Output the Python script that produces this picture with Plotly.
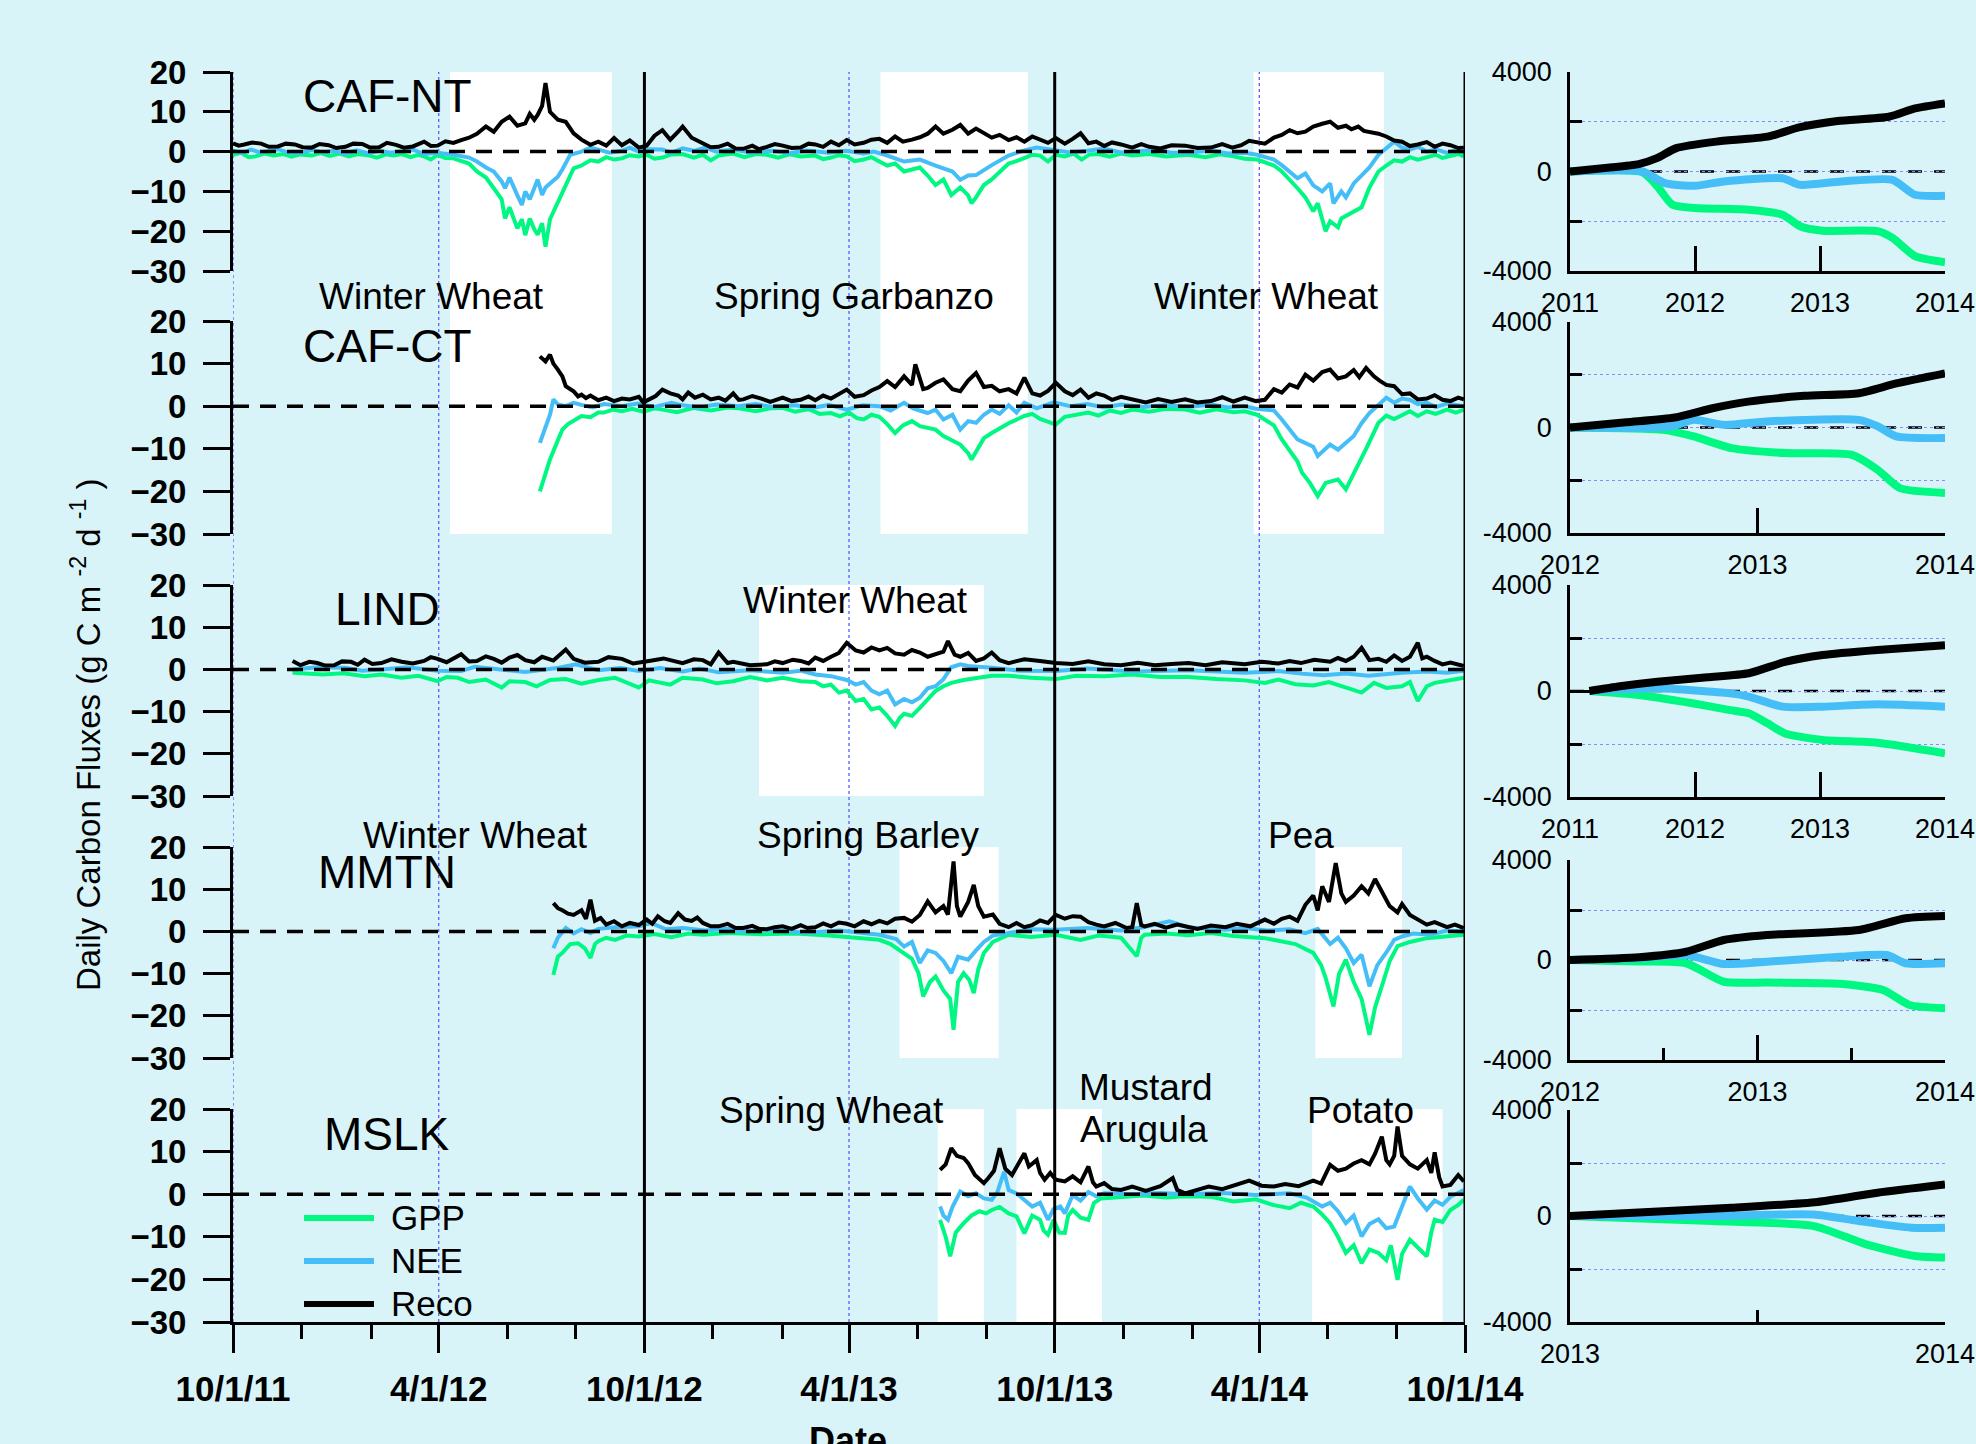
import pandas as pd
import plotly.graph_objects as go

W, H = 1976, 1444
BASE = pd.Timestamp("2011-10-01")
GREEN = "#00F882"
BLUE = "#45BEF8"
BLACK = "#000000"
FONT = "Liberation Sans, Arial, Helvetica, sans-serif"

# ---------------- Daily carbon fluxes: (day since 10/1/2011, g C m-2 d-1) ----------------
nt_reco = [(0,2.1),(5,1.5),(10,1.8),(17,2.3),(25,2.0),(32,1.2),(40,1.3),(47,2.0),(55,1.8),(62,1.1),(70,1.0),
           (77,1.9),(85,1.6),(92,0.9),(100,1.2),(107,2.0),(115,1.9),(122,1.0),(130,1.1),(137,2.2),(145,1.7),
           (152,1.0),(160,1.3),(166,2.0),(170,2.5),(176,1.4),(182,1.5),(189,2.6),(196,2.2),(203,2.9),(210,3.5),
           (217,4.5),(225,6.3),(232,5.0),(239,7.5),(246,8.8),(253,6.5),(260,7.1),(264,9.5),(268,8.0),(271,9.2),
           (275,11.5),(278,17.2),(282,10.0),(289,8.0),(296,7.5),(303,4.6),(310,3.0),(318,1.7),(325,2.5),
           (332,1.5),(339,3.4),(346,1.6),(353,2.8),(361,1.0),(368,1.5),(375,4.0),(382,5.4),(389,3.0),(396,5.0),
           (400,6.3),(408,3.5),(418,2.0),(425,1.1),(432,1.2),(440,2.0),(447,0.8),(454,0.7),(462,1.5),(468,0.6),
           (475,1.2),(482,1.9),(489,1.5),(497,0.9),(505,1.0),(512,2.0),(518,1.8),(525,1.2),(532,2.5),(539,1.6),
           (546,2.9),(553,1.8),(561,2.2),(568,3.0),(575,3.2),(582,2.2),(589,3.8),(596,2.5),(604,3.0),(611,3.6),
           (618,4.5),(625,6.3),(632,4.5),(640,5.5),(647,6.7),(654,4.5),(661,5.8),(668,4.6),(675,3.5),(682,4.2),
           (690,2.9),(697,3.6),(704,2.5),(711,3.8),(718,3.0),(725,2.2),(732,3.4),(740,2.0),(747,3.2),(754,4.6),
           (761,2.1),(768,2.5),(775,1.4),(782,2.3),(790,1.8),(800,1.0),(808,1.9),(815,1.2),(825,0.8),(835,1.6),
           (847,1.5),(858,0.9),(870,1.0),(880,1.9),(889,1.0),(897,1.6),(904,2.7),(911,2.4),(918,2.0),(926,3.5),
           (933,4.2),(940,5.4),(947,4.6),(954,5.0),(961,6.3),(969,7.0),(976,7.5),(983,6.0),(990,6.5),(995,5.6),
           (1001,6.3),(1006,5.2),(1011,5.0),(1019,4.5),(1026,3.8),(1033,2.8),(1040,2.5),(1047,1.4),(1054,1.8),
           (1062,2.4),(1069,1.2),(1076,2.0),(1083,1.6),(1090,0.9),(1095,1.0)]
nt_nee = [(0,0.3),(8,-0.4),(16,0.5),(24,-0.2),(30,0.0),(40,0.6),(50,-0.3),(60,-0.3),(70,0.4),(80,-0.2),
          (90,0.2),(100,-0.5),(110,0.3),(120,-0.4),(130,0.2),(140,-0.3),(150,0.0),(160,0.5),(170,-0.6),
          (182,-0.3),(196,-0.8),(210,-1.5),(217,-2.5),(225,-4.0),(232,-5.0),(239,-7.5),(242,-9.2),(246,-6.5),
          (253,-11.0),(257,-13.4),(260,-10.0),(264,-12.0),(268,-9.2),(271,-7.0),(275,-10.9),(278,-9.0),
          (282,-8.0),(289,-6.3),(293,-4.5),(300,-0.8),(310,0.0),(318,1.0),(325,0.5),(335,-0.3),(346,0.2),
          (353,1.0),(361,0.0),(370,0.6),(382,0.5),(390,-0.3),(400,0.8),(410,0.2),(420,1.0),(430,0.0),(445,0.5),
          (460,-0.2),(480,0.2),(495,-0.4),(510,0.3),(530,-0.3),(545,0.2),(561,-0.5),(570,0.0),(580,-0.8),
          (597,-2.5),(611,-2.0),(625,-3.5),(632,-4.2),(640,-5.0),(647,-7.1),(654,-6.0),(661,-5.9),(668,-4.5),
          (675,-3.4),(690,-1.0),(704,0.3),(715,1.0),(730,0.5),(745,-0.2),(760,0.2),(775,0.8),(790,-0.2),
          (800,0.0),(820,0.4),(835,-0.3),(850,-0.3),(870,0.3),(885,-0.5),(900,-0.3),(911,-0.8),(926,-2.0),
          (933,-3.4),(947,-6.7),(954,-5.5),(961,-8.5),(969,-10.0),(976,-8.0),(979,-13.0),(986,-10.0),(990,-11.5),
          (997,-8.0),(1004,-5.9),(1011,-4.0),(1019,-0.8),(1026,1.0),(1033,2.5),(1040,1.0),(1047,0.5),(1054,1.2),
          (1062,0.0),(1070,0.6),(1080,-0.3),(1088,0.4),(1095,-0.2)]
nt_gpp = [(0,-0.8),(7,-0.3),(14,-1.4),(20,-1.2),(28,-0.5),(36,-1.0),(45,-0.6),(52,-1.3),(60,-0.7),(70,-1.0),
          (78,-0.4),(86,-1.1),(95,-0.5),(103,-1.2),(111,-0.6),(120,-0.9),(128,-1.5),(136,-0.7),(143,-1.0),
          (150,-0.6),(158,-1.4),(165,-0.8),(170,-1.2),(176,-2.0),(182,-0.8),(189,-1.6),(196,-1.7),(210,-3.0),
          (217,-5.0),(225,-6.5),(232,-9.2),(239,-12.0),(242,-16.8),(246,-14.0),(253,-19.3),(257,-17.0),
          (260,-21.0),(264,-16.8),(268,-19.5),(271,-20.9),(275,-18.0),(278,-23.9),(282,-17.0),(289,-12.6),
          (296,-8.0),(303,-4.2),(310,-3.5),(318,-2.2),(325,-2.5),(332,-1.4),(339,-2.0),(346,-1.7),(353,-0.9),
          (361,-1.2),(368,-0.8),(375,-1.8),(382,-1.5),(390,-0.7),(400,-0.6),(410,-1.5),(418,-0.8),(425,-2.2),
          (432,-1.0),(445,-0.5),(455,-1.4),(465,-0.6),(475,-0.8),(485,-1.5),(495,-0.7),(505,-1.2),(518,-1.0),
          (525,-1.9),(532,-1.5),(539,-0.9),(546,-1.2),(553,-2.4),(561,-2.0),(568,-1.4),(575,-2.5),(582,-3.5),
          (589,-3.0),(597,-5.0),(611,-4.0),(618,-6.0),(625,-8.4),(632,-7.0),(639,-10.9),(647,-9.0),(654,-11.0),
          (657,-13.0),(661,-11.5),(668,-8.4),(675,-7.0),(682,-5.0),(690,-3.0),(697,-2.4),(704,-1.7),(711,-0.8),
          (718,-1.0),(725,-2.5),(732,-0.8),(740,-1.2),(748,-0.5),(755,-2.0),(762,-0.7),(770,-0.6),(780,-1.3),
          (790,-0.5),(800,-1.0),(815,-0.6),(830,-1.2),(850,-0.8),(865,-1.4),(878,-0.7),(890,-1.2),(900,-1.8),
          (911,-2.0),(926,-3.5),(933,-5.0),(940,-7.0),(947,-9.2),(954,-11.5),(961,-15.0),(965,-13.0),(972,-20.0),
          (976,-17.5),(983,-19.0),(986,-16.8),(997,-15.0),(1004,-14.0),(1011,-9.0),(1019,-5.0),(1026,-3.5),
          (1033,-2.2),(1040,-2.5),(1047,-1.4),(1054,-2.0),(1062,-1.5),(1070,-0.8),(1076,-1.6),(1083,-1.0),
          (1090,-0.6),(1095,-1.2)]

ct_reco = [(273,11.7),(278,10.5),(282,12.1),(285,10.0),(289,8.6),(293,7.0),(296,4.7),(303,3.5),(307,2.3),(310,2.7),
           (314,1.9),(318,2.5),(325,1.4),(332,2.0),(339,1.2),(346,1.8),(353,1.6),(361,2.2),(365,0.9),(370,1.5),
           (376,2.4),(382,3.9),(389,3.0),(396,2.5),(400,1.6),(405,3.2),(411,2.0),(418,2.7),(425,1.6),(432,2.0),
           (438,1.3),(445,3.0),(450,1.5),(454,1.6),(462,2.4),(470,1.8),(478,1.0),(489,2.0),(497,1.2),(505,1.5),
           (512,2.3),(518,1.4),(525,2.5),(532,1.8),(539,2.9),(546,3.9),(553,2.2),(561,2.6),(568,3.7),(575,4.5),
           (582,5.9),(589,4.5),(597,7.0),(604,5.0),(607,9.8),(614,4.0),(618,4.3),(625,5.5),(632,6.3),(640,4.0),
           (647,3.5),(654,6.0),(661,7.8),(668,4.5),(675,4.8),(682,3.5),(690,4.0),(697,3.0),(704,6.7),(711,3.0),
           (718,2.5),(725,3.6),(732,5.5),(740,3.5),(747,2.6),(754,3.9),(761,2.0),(768,3.0),(775,2.5),(782,1.5),
           (790,2.2),(800,1.5),(812,0.9),(823,1.7),(835,1.0),(847,1.6),(858,0.9),(870,1.2),(880,2.1),(890,1.1),
           (900,2.0),(910,1.2),(918,1.5),(926,4.0),(933,3.2),(940,5.1),(947,4.4),(954,7.4),(961,6.0),(969,8.0),
           (976,8.6),(983,6.5),(990,7.0),(997,8.5),(1002,6.8),(1008,9.0),(1015,7.0),(1020,6.0),(1026,5.0),
           (1033,4.7),(1040,2.8),(1047,3.0),(1054,1.6),(1062,1.8),(1069,2.6),(1076,1.5),(1083,1.2),(1090,2.0),
           (1095,1.6)]
ct_nee = [(273,-8.6),(278,-4.7),(282,-2.0),(285,1.6),(289,0.4),(296,0.0),(303,0.8),(310,0.3),(320,-0.3),(330,0.5),
          (346,0.0),(360,0.6),(375,-0.2),(390,0.8),(400,0.2),(415,-0.3),(430,0.4),(450,0.0),(465,0.5),(480,-0.2),
          (500,0.2),(515,-0.4),(530,0.3),(546,-0.8),(560,0.2),(575,0.0),(585,-1.0),(597,0.8),(605,-0.5),
          (618,-1.6),(625,-0.8),(632,-3.1),(640,-2.0),(647,-5.5),(654,-3.5),(661,-3.9),(668,-2.0),(675,-0.8),
          (682,-1.8),(690,0.2),(697,-1.5),(704,0.8),(715,-0.5),(730,0.9),(745,0.0),(760,0.5),(775,-0.3),
          (790,0.4),(810,-0.2),(830,0.3),(850,-0.2),(870,0.4),(885,-0.3),(900,0.0),(910,-0.6),(926,-1.0),
          (933,-3.1),(947,-7.8),(961,-9.5),(965,-11.7),(976,-9.0),(983,-10.2),(997,-7.0),(1004,-4.0),(1011,-1.6),
          (1026,2.0),(1033,0.8),(1040,1.8),(1047,1.5),(1054,0.5),(1062,0.8),(1070,-0.2),(1080,0.6),(1095,0.0)]
ct_gpp = [(273,-20.0),(278,-16.0),(282,-12.5),(289,-8.0),(293,-5.5),(298,-4.2),(303,-3.5),(310,-2.3),(318,-2.6),
          (325,-1.5),(330,-1.5),(338,-0.8),(346,-1.2),(355,-0.6),(365,-1.3),(375,-0.5),(382,-0.8),(395,-1.4),
          (410,-0.4),(425,-1.0),(440,-0.3),(450,-0.5),(465,-1.2),(478,-0.5),(489,-0.4),(500,-1.3),(512,-0.7),
          (522,-1.8),(532,-1.6),(540,-2.4),(548,-1.5),(555,-2.8),(561,-3.1),(568,-2.0),(575,-2.5),(582,-4.2),
          (589,-6.3),(596,-4.5),(604,-3.5),(611,-4.7),(625,-5.5),(632,-7.0),(647,-9.0),(654,-11.0),(657,-12.5),
          (668,-7.5),(675,-6.3),(690,-4.0),(704,-2.3),(711,-1.8),(718,-3.0),(732,-4.3),(740,-2.5),(761,-1.5),
          (770,-2.2),(780,-1.0),(790,-1.6),(800,-0.8),(815,-1.3),(830,-0.6),(847,-0.8),(860,-1.5),(875,-0.7),
          (890,-1.4),(900,-1.2),(911,-2.0),(926,-4.5),(933,-7.8),(947,-13.0),(951,-15.6),(958,-18.0),(965,-21.1),
          (972,-18.0),(983,-17.2),(990,-19.5),(1001,-14.0),(1008,-10.0),(1019,-3.9),(1026,-2.2),(1033,-3.0),
          (1040,-2.0),(1047,-1.2),(1054,-2.3),(1062,-1.2),(1070,-1.8),(1080,-0.8),(1088,-1.5),(1095,-0.8)]

lind_reco = [(53,2.0),(60,1.0),(68,1.8),(75,1.5),(82,0.9),(90,1.0),(97,1.9),(105,1.8),(111,1.1),(117,2.3),
             (124,1.3),(132,1.5),(141,2.4),(150,1.8),(160,1.4),(170,2.0),(176,2.9),(182,2.5),(190,1.7),(203,3.6),
             (210,1.9),(217,2.0),(225,3.1),(232,2.5),(239,1.6),(246,2.8),(253,3.4),(260,2.2),(268,1.7),(275,3.0),
             (285,2.1),(296,4.7),(303,2.5),(313,1.6),(325,1.8),(334,2.9),(346,2.5),(356,1.4),(370,2.0),(383,2.6),
             (400,1.5),(410,2.4),(418,2.2),(425,1.2),(432,4.0),(440,1.5),(445,1.8),(460,1.0),(475,1.2),(482,1.9),
             (489,1.5),(498,2.3),(505,2.0),(512,1.4),(518,2.8),(525,2.0),(532,3.0),(539,3.9),(546,6.3),(554,4.5),
             (561,4.0),(568,5.2),(575,4.5),(582,5.1),(589,3.8),(597,3.5),(604,4.6),(611,4.0),(618,3.0),(625,3.5),
             (632,4.2),(636,6.7),(642,3.5),(647,3.0),(654,3.9),(661,2.0),(668,2.6),(675,4.0),(682,2.2),(690,1.5),
             (704,2.4),(718,2.0),(732,1.5),(747,1.3),(761,1.9),(775,1.2),(790,1.0),(805,1.6),(820,1.0),(835,1.3),
             (850,1.5),(865,1.0),(880,1.7),(900,1.2),(915,1.8),(930,1.4),(940,2.0),(950,1.5),(962,2.3),(976,1.8),
             (983,2.7),(990,2.0),(997,3.0),(1004,5.1),(1011,2.2),(1019,2.5),(1026,1.8),(1033,3.3),(1040,2.0),
             (1047,3.0),(1054,6.3),(1058,2.6),(1062,3.0),(1069,2.0),(1076,1.2),(1083,1.6),(1095,0.8)]
lind_nee = [(53,0.0),(75,0.5),(100,0.4),(115,-0.3),(132,0.0),(155,0.5),(182,-0.3),(203,-0.4),(215,0.6),(232,0.2),
            (260,-0.6),(290,0.4),(305,1.2),(325,-0.2),(345,0.3),(361,-0.4),(380,0.3),(400,-0.5),(415,0.2),
            (432,-0.7),(460,-0.2),(489,-0.8),(505,-0.3),(518,-1.2),(532,-1.6),(546,-2.5),(554,-3.6),(561,-3.0),
            (568,-5.0),(575,-5.9),(582,-5.0),(589,-8.3),(597,-7.0),(604,-7.8),(611,-6.7),(618,-4.5),(625,-4.0),
            (632,-2.3),(639,0.5),(647,1.2),(654,0.8),(675,0.4),(700,-0.3),(732,-0.4),(760,0.2),(800,-0.5),
            (850,-0.2),(900,-0.8),(930,-0.4),(950,-1.0),(970,-1.4),(990,-1.0),(1010,-1.5),(1040,-0.8),(1062,-0.5),
            (1080,-0.8),(1095,-0.3)]
lind_gpp = [(53,-0.8),(68,-1.0),(80,-1.2),(98,-0.9),(117,-1.6),(132,-1.2),(150,-2.0),(165,-1.5),(182,-2.8),
            (190,-1.8),(200,-2.0),(210,-3.0),(225,-2.4),(239,-4.3),(246,-2.8),(260,-3.0),(270,-4.0),(282,-2.5),
            (296,-2.3),(310,-3.4),(325,-2.5),(340,-2.0),(350,-3.0),(361,-4.3),(370,-2.6),(380,-3.2),(389,-3.6),
            (400,-2.0),(418,-2.4),(430,-3.3),(445,-2.8),(460,-1.8),(475,-2.6),(489,-2.0),(505,-2.8),(518,-3.0),
            (525,-4.0),(532,-3.6),(539,-5.5),(546,-5.0),(554,-7.5),(561,-7.0),(568,-9.5),(575,-9.0),(582,-11.0),
            (589,-13.4),(593,-11.5),(597,-10.5),(604,-11.0),(611,-9.1),(618,-7.0),(625,-5.1),(632,-4.0),
            (639,-3.2),(650,-2.5),(661,-2.0),(675,-1.5),(690,-1.5),(710,-2.0),(732,-2.3),(750,-1.5),(775,-1.6),
            (800,-1.2),(825,-1.8),(850,-1.8),(875,-2.3),(900,-2.6),(918,-3.2),(930,-2.4),(945,-3.5),(961,-3.8),
            (975,-3.0),(990,-4.2),(1004,-5.5),(1015,-3.2),(1026,-4.4),(1040,-4.0),(1047,-3.0),(1054,-7.5),
            (1062,-4.0),(1069,-3.2),(1080,-2.6),(1095,-2.0)]

mmtn_reco = [(285,6.7),(289,5.5),(293,5.0),(298,4.2),(303,3.9),(310,5.0),(314,3.0),(318,7.5),(322,2.5),(327,3.2),
             (332,1.6),(339,2.4),(346,1.2),(353,2.0),(361,1.5),(368,2.8),(373,1.8),(378,3.6),(384,2.4),(389,2.0),
             (396,4.3),(402,2.8),(408,2.5),(413,3.3),(418,2.0),(425,1.2),(432,1.2),(440,1.8),(447,0.8),(454,0.8),
             (462,1.3),(468,0.6),(475,0.5),(482,1.0),(489,1.2),(497,0.6),(505,1.5),(511,0.8),(518,1.0),(525,1.9),
             (532,1.2),(539,2.1),(546,1.8),(553,1.2),(561,2.4),(568,1.7),(575,2.5),(582,1.9),(589,3.0),(597,3.2),
             (604,2.3),(611,3.9),(618,7.1),(625,4.5),(632,6.0),(636,4.0),(641,16.6),(644,6.0),(647,3.5),(654,7.0),
             (659,11.0),(663,6.0),(668,3.5),(676,4.0),(682,1.8),(690,1.0),(697,2.0),(704,1.0),(711,1.5),(718,2.6),
             (725,2.0),(732,3.9),(740,3.0),(747,3.6),(754,3.5),(761,2.2),(768,1.6),(775,1.2),(785,2.0),(795,0.8),
             (800,1.0),(804,6.7),(808,1.5),(811,1.2),(820,1.8),(830,0.9),(840,1.6),(847,1.2),(858,0.6),(870,1.4),
             (883,1.0),(893,1.8),(905,1.2),(918,2.8),(926,1.8),(933,3.0),(940,3.5),(947,2.5),(954,6.3),(961,8.5),
             (965,5.0),(969,10.7),(975,7.0),(981,16.2),(986,9.0),(990,7.0),(997,8.5),(1004,10.7),(1010,9.0),
             (1016,12.4),(1022,9.5),(1029,6.0),(1036,4.5),(1040,6.5),(1047,3.9),(1054,2.8),(1062,1.6),(1069,2.2),
             (1080,1.0),(1087,1.6),(1095,0.8)]
mmtn_nee = [(285,-4.0),(289,-1.5),(296,0.8),(303,-0.5),(310,0.5),(318,-0.4),(325,0.6),(340,1.0),(361,1.2),
            (372,2.0),(385,0.5),(400,0.8),(420,0.2),(440,0.6),(454,0.0),(480,0.3),(510,-0.3),(540,0.2),(560,-0.4),
            (575,-0.8),(590,-1.8),(597,-3.6),(604,-2.5),(611,-7.5),(618,-4.5),(625,-5.1),(632,-7.0),(639,-9.9),
            (645,-6.0),(654,-6.7),(661,-4.5),(668,-2.5),(676,-1.0),(690,-0.4),(710,0.5),(732,0.4),(760,0.8),
            (790,0.2),(810,1.0),(833,2.4),(850,1.0),(866,0.6),(883,0.4),(900,0.8),(920,0.2),(940,0.5),(954,-0.4),
            (965,0.6),(976,-3.0),(983,-1.5),(990,-4.0),(997,-7.5),(1004,-5.5),(1011,-13.0),(1018,-8.0),
            (1026,-5.0),(1033,-2.0),(1040,-1.2),(1050,-0.5),(1065,-0.8),(1080,0.2),(1095,0.0)]
mmtn_gpp = [(285,-10.3),(289,-6.0),(293,-5.1),(300,-3.0),(307,-2.8),(313,-4.0),(318,-6.3),(322,-3.0),(325,-2.3),
            (332,-1.5),(340,-2.0),(350,-1.0),(361,-1.2),(375,-0.6),(390,-1.4),(405,-0.5),(418,-0.8),(440,-0.4),
            (470,-0.7),(500,-0.5),(530,-1.0),(561,-1.6),(575,-2.0),(585,-3.0),(597,-5.1),(604,-6.5),(610,-10.0),
            (614,-15.4),(620,-12.0),(625,-10.7),(632,-14.0),(638,-16.0),(641,-23.3),(645,-12.0),(650,-9.9),
            (655,-11.5),(659,-14.6),(663,-9.0),(668,-5.1),(676,-2.5),(690,-0.8),(710,-1.3),(732,-0.8),(754,-2.0),
            (770,-1.0),(790,-1.5),(804,-5.9),(808,-1.5),(811,-0.8),(830,-0.5),(850,-0.9),(870,-0.4),(890,-1.1),
            (918,-1.6),(930,-2.2),(945,-3.0),(961,-5.1),(968,-8.0),(972,-11.0),(979,-17.8),(984,-10.0),(990,-6.7),
            (997,-12.0),(1004,-16.0),(1011,-24.5),(1016,-18.0),(1022,-13.0),(1029,-7.0),(1036,-3.5),(1047,-2.5),
            (1062,-1.6),(1075,-1.2),(1095,-0.8)]

mslk_reco = [(629,5.7),(634,7.0),(639,10.8),(644,9.0),(650,8.5),(654,7.3),(660,4.5),(664,3.5),(668,2.6),(672,3.8),
             (677,5.5),(682,10.8),(687,6.0),(693,4.5),(698,7.0),(704,9.6),(708,6.5),(715,8.0),(718,5.0),(722,3.4),
             (727,5.0),(732,3.4),(740,3.0),(747,4.2),(754,2.8),(761,6.5),(765,2.8),(768,1.8),(775,2.6),(782,1.2),
             (790,1.0),(800,1.8),(812,0.8),(825,1.9),(836,3.8),(840,1.0),(847,0.2),(856,0.8),(868,1.8),(880,1.2),
             (892,2.3),(904,3.2),(915,2.0),(926,1.8),(936,2.4),(948,1.9),(961,3.2),(968,2.5),(976,6.9),(983,5.5),
             (990,6.0),(997,7.2),(1004,8.0),(1011,7.0),(1016,9.5),(1022,13.5),(1026,8.0),(1029,7.0),(1033,9.0),
             (1036,15.9),(1040,9.0),(1047,7.0),(1054,6.0),(1062,8.0),(1066,5.0),(1069,9.8),(1073,4.0),(1076,1.8),
             (1083,2.2),(1090,4.5),(1095,3.0)]
mslk_nee = [(629,-2.9),(632,-5.0),(636,-6.0),(640,-3.0),(647,0.6),(654,-0.5),(661,0.2),(668,-1.0),(675,-1.3),
            (680,0.5),(686,5.3),(690,1.0),(697,0.2),(704,-1.5),(711,-2.9),(718,-2.0),(725,-6.0),(730,-3.5),
            (736,-2.9),(740,-4.5),(747,-0.2),(754,-1.5),(761,0.5),(768,-0.5),(775,0.2),(800,0.0),(825,0.3),
            (847,0.0),(880,0.3),(910,-0.2),(940,0.2),(955,-0.8),(969,-2.9),(976,-2.0),(983,-4.0),(990,-6.8),
            (997,-5.0),(1004,-9.9),(1011,-7.0),(1019,-5.9),(1026,-8.0),(1033,-7.6),(1040,-3.0),(1047,1.8),
            (1054,-1.0),(1062,-3.6),(1069,-1.5),(1076,-2.5),(1083,-0.6),(1090,0.4),(1095,1.0)]
mslk_gpp = [(629,-6.0),(634,-10.0),(638,-14.6),(643,-9.0),(650,-6.8),(657,-5.0),(664,-4.0),(670,-4.5),(675,-3.7),
            (682,-3.0),(690,-4.5),(697,-5.2),(701,-7.5),(704,-9.2),(711,-5.0),(718,-6.0),(721,-8.5),(725,-9.5),
            (730,-6.0),(735,-9.0),(740,-9.1),(743,-5.0),(747,-3.7),(754,-5.5),(761,-6.0),(766,-2.0),(772,-1.0),
            (790,-0.6),(810,-0.3),(830,-0.8),(847,-0.5),(870,-0.6),(890,-1.7),(910,-1.2),(925,-2.5),(940,-3.3),
            (950,-2.0),(961,-2.9),(968,-4.5),(976,-6.8),(983,-10.0),(990,-13.8),(997,-12.0),(1004,-16.2),
            (1011,-13.0),(1019,-13.8),(1026,-15.5),(1030,-12.0),(1036,-20.1),(1040,-14.0),(1047,-10.7),
            (1054,-12.5),(1062,-14.6),(1066,-9.0),(1069,-6.0),(1076,-6.5),(1083,-3.7),(1090,-2.5),(1095,-1.3)]

# ---------------- Cumulative fluxes (year, g C m-2) ----------------
cum_nt_reco = [(2011.0,0),(2011.3,150),(2011.55,300),(2011.7,550),(2011.85,940),(2012.17,1200),(2012.58,1400),
               (2012.84,1780),(2013.14,2030),(2013.55,2200),(2013.76,2540),(2014.0,2740)]
cum_nt_nee = [(2011.0,0),(2011.58,0),(2011.76,-470),(2012.0,-575),(2012.23,-400),(2012.7,-270),(2012.84,-535),
              (2013.17,-400),(2013.58,-335),(2013.76,-935),(2014.0,-975)]
cum_nt_gpp = [(2011.0,0),(2011.58,-30),(2011.7,-600),(2011.82,-1340),(2012.0,-1470),(2012.43,-1540),
              (2012.7,-1740),(2012.84,-2200),(2013.02,-2380),(2013.46,-2400),(2013.58,-2670),(2013.76,-3400),
              (2014.0,-3650)]
cum_ct_reco = [(2012.0,0),(2012.3,200),(2012.56,380),(2012.76,730),(2012.95,980),(2013.25,1200),(2013.54,1300),
               (2013.74,1670),(2014.0,2050)]
cum_ct_nee = [(2012.0,0),(2012.54,40),(2012.66,290),(2012.82,100),(2013.05,230),(2013.54,290),(2013.64,50),
              (2013.74,-340),(2014.0,-400)]
cum_ct_gpp = [(2012.0,0),(2012.5,-90),(2012.66,-340),(2012.86,-780),(2013.15,-970),(2013.5,-1030),(2013.64,-1600),
              (2013.76,-2300),(2014.0,-2480)]
cum_lind_reco = [(2011.155,0),(2011.4,180),(2011.7,350),(2012.1,520),(2012.43,670),(2012.72,1100),(2013.02,1360),
                 (2013.46,1550),(2014.0,1730)]
cum_lind_nee = [(2011.155,0),(2011.7,100),(2012.28,-90),(2012.43,-210),(2012.7,-590),(2013.02,-590),
                (2013.46,-500),(2014.0,-590)]
cum_lind_gpp = [(2011.155,0),(2011.55,-150),(2011.99,-470),(2012.28,-720),(2012.43,-840),(2012.58,-1220),
                (2012.72,-1600),(2013.02,-1850),(2013.46,-1950),(2014.0,-2350)]
cum_mmtn_reco = [(2012.0,0),(2012.37,110),(2012.62,330),(2012.82,800),(2013.05,1000),(2013.54,1200),(2013.79,1670),
                 (2014.0,1760)]
cum_mmtn_nee = [(2012.0,0),(2012.37,80),(2012.62,200),(2012.82,-160),(2013.05,-70),(2013.44,130),(2013.69,200),
                (2013.79,-130),(2014.0,-130)]
cum_mmtn_gpp = [(2012.0,0),(2012.37,-60),(2012.62,-130),(2012.82,-870),(2013.05,-900),(2013.44,-950),
                (2013.67,-1200),(2013.81,-1800),(2014.0,-1930)]
cum_mslk_reco = [(2013.0,0),(2013.43,310),(2013.66,530),(2013.82,880),(2014.0,1190)]
cum_mslk_nee = [(2013.0,0),(2013.38,0),(2013.65,60),(2013.77,-190),(2013.91,-440),(2014.0,-440)]
cum_mslk_gpp = [(2013.0,0),(2013.38,-190),(2013.65,-380),(2013.79,-1070),(2013.92,-1510),(2014.0,-1570)]

site_names = ["CAF-NT", "CAF-CT", "LIND", "MMTN", "MSLK"]
daily = [(nt_gpp, nt_nee, nt_reco), (ct_gpp, ct_nee, ct_reco), (lind_gpp, lind_nee, lind_reco),
         (mmtn_gpp, mmtn_nee, mmtn_reco), (mslk_gpp, mslk_nee, mslk_reco)]
cumul = [(cum_nt_gpp, cum_nt_nee, cum_nt_reco), (cum_ct_gpp, cum_ct_nee, cum_ct_reco),
         (cum_lind_gpp, cum_lind_nee, cum_lind_reco), (cum_mmtn_gpp, cum_mmtn_nee, cum_mmtn_reco),
         (cum_mslk_gpp, cum_mslk_nee, cum_mslk_reco)]
cum_ranges = [(2011, 2014), (2012, 2014), (2011, 2014), (2012, 2014), (2013, 2014)]
cum_major = [[2011, 2012, 2013, 2014], [2012, 2013, 2014], [2011, 2012, 2013, 2014],
             [2012, 2013, 2014], [2013, 2014]]
cum_minor = [[], [], [], [2012.5, 2013.5], [2013.5]]

# crop seasons (white bands) and their labels
seasons = [  # (start, end, first panel, last panel)
    ("2012-04-11", "2012-09-02", 0, 1), ("2013-04-29", "2013-09-07", 0, 1), ("2014-03-27", "2014-07-21", 0, 1),
    ("2013-01-11", "2013-07-30", 2, 2),
    ("2013-05-16", "2013-08-12", 3, 3), ("2014-05-21", "2014-08-06", 3, 3),
    ("2013-06-19", "2013-07-30", 4, 4), ("2013-08-28", "2013-11-12", 4, 4), ("2014-05-18", "2014-09-11", 4, 4),
]
crop_labels = [("Winter Wheat", 431, 297), ("Spring Garbanzo", 854, 297), ("Winter Wheat", 1266, 297),
               ("Winter Wheat", 855, 600), ("Winter Wheat", 475, 835), ("Spring Barley", 868, 835),
               ("Pea", 1301, 835), ("Spring Wheat", 831, 1110), ("Mustard", 1146, 1087),
               ("Arugula", 1144, 1129), ("Potato", 1360, 1110)]
date_ticks = ["2011-10-01", "2012-04-01", "2012-10-01", "2013-04-01", "2013-10-01", "2014-04-01", "2014-10-01"]
date_ticktext = ["10/1/11", "4/1/12", "10/1/12", "4/1/13", "10/1/13", "4/1/14", "10/1/14"]

# ---------------- layout geometry (pixels) ----------------
LX0, LX1 = 233, 1465
RX0, RX1 = 1570, 1945
left_rows = [(72, 271), (321, 534), (585, 796), (847, 1058), (1109, 1322)]
right_rows = [(72, 271), (322, 533), (585, 797), (860, 1060), (1110, 1322)]


def px(x):
    return x / W


def py(y):
    return 1 - y / H


def unzip(pts):
    return [p[0] for p in pts], [p[1] for p in pts]


fig = go.Figure()
colors = [GREEN, BLUE, BLACK]
names = ["GPP", "NEE", "Reco"]

layout = dict(
    template="none",
    width=W, height=H, margin=dict(l=0, r=0, t=0, b=0, pad=0), autosize=False,
    paper_bgcolor="#d8f4f9", plot_bgcolor="rgba(0,0,0,0)",
    showlegend=False, font=dict(family=FONT, color="black"),
)

shapes = []
annotations = []

for i in range(5):
    n = i + 1
    xa, ya = f"x{n}", f"y{n}"
    for series, col in zip(daily[i], colors):
        d, v = unzip(series)
        dates = [BASE + pd.Timedelta(days=k) for k in d]
        fig.add_trace(go.Scatter(x=dates, y=v, mode="lines", line=dict(color=col, width=4),
                                 xaxis=xa, yaxis=ya, hoverinfo="skip"))
    top, bot = left_rows[i]
    xdict = dict(domain=[px(LX0), px(LX1)], anchor=ya, type="date", automargin=False,
                 range=["2011-10-01", "2014-10-01"], showgrid=False, zeroline=False)
    if n < 5:
        xdict.update(matches="x5", showticklabels=False, ticks="", showline=False)
    else:
        xdict.update(tickmode="array", tickvals=date_ticks, ticktext=date_ticktext,
                     ticks="outside", ticklen=28, tickwidth=3, tickcolor="black",
                     showline=True, linecolor="black", linewidth=3,
                     tickfont=dict(size=35, weight="bold", family=FONT),
                     ticklabelstandoff=6,
                     minor=dict(tickmode="linear", tick0="2011-10-01", dtick="M2", ticks="outside",
                                ticklen=14, tickwidth=3, tickcolor="black", showgrid=False))
    layout[f"xaxis{n}"] = xdict
    layout[f"yaxis{n}"] = dict(domain=[py(bot), py(top)], anchor=xa, range=[-30, 20], automargin=False,
                               tickmode="array", tickvals=[-30, -20, -10, 0, 10, 20],
                               ticks="outside", ticklen=27, tickwidth=3, tickcolor="black",
                               showline=True, linecolor="black", linewidth=3,
                               showgrid=False, zeroline=False, ticklabelstandoff=10,
                               tickfont=dict(size=33, weight="bold", family=FONT))
    # zero dashed line
    shapes.append(dict(type="line", xref=xa, yref=ya, x0="2011-10-01", x1="2014-10-01", y0=0, y1=0,
                       line=dict(color="black", width=3.5, dash="16px,11px"), layer="above"))

# right-hand cumulative panels
for i in range(5):
    n = i + 6
    xa, ya = f"x{n}", f"y{n}"
    for series, col in zip(cumul[i], colors):
        xs, v = unzip(series)
        fig.add_trace(go.Scatter(x=xs, y=v, mode="lines", line=dict(color=col, width=8, shape="spline",
                                 smoothing=0.6), xaxis=xa, yaxis=ya, hoverinfo="skip"))
    top, bot = right_rows[i]
    xdict = dict(domain=[px(RX0), px(RX1)], anchor=ya, range=list(cum_ranges[i]), automargin=False,
                 tickmode="array", tickvals=cum_major[i], ticktext=[str(t) for t in cum_major[i]],
                 ticks="inside", ticklen=25, tickwidth=2.5, tickcolor="black",
                 showline=True, linecolor="black", linewidth=2.5, showgrid=False, zeroline=False,
                 tickfont=dict(size=27, family=FONT), ticklabelstandoff=6)
    if cum_minor[i]:
        xdict["minor"] = dict(tickmode="array", tickvals=cum_minor[i], ticks="inside", ticklen=12,
                              tickwidth=2.5, tickcolor="black", showgrid=False)
    layout[f"xaxis{n}"] = xdict
    layout[f"yaxis{n}"] = dict(domain=[py(bot), py(top)], anchor=xa, range=[-4000, 4000], automargin=False,
                               tickmode="array", tickvals=[-4000, 0, 4000], ticktext=["-4000", "0", "4000"],
                               ticks="inside", ticklen=25, tickwidth=2.5, tickcolor="black",
                               showline=True, linecolor="black", linewidth=2.5, zeroline=False,
                               showgrid=True, gridcolor="#8a8aff", griddash="dot", gridwidth=1.2,
                               tickfont=dict(size=27, family=FONT), ticklabelstandoff=10,
                               minor=dict(tickmode="array", tickvals=[-2000, 2000], ticks="inside",
                                          ticklen=12, tickwidth=2.5, tickcolor="black", showgrid=True,
                                          gridcolor="#8a8aff", griddash="dot", gridwidth=1.2))
    shapes.append(dict(type="line", xref=xa, yref=ya, x0=cum_ranges[i][0], x1=cum_ranges[i][1], y0=0, y1=0,
                       line=dict(color="black", width=2.5, dash="14px,12px"), layer="below"))

# white crop-season bands
for s, e, p0, p1 in seasons:
    shapes.insert(0, dict(type="rect", xref="x5", yref="paper", x0=s, x1=e,
                          y0=py(left_rows[p1][1]), y1=py(left_rows[p0][0]),
                          fillcolor="white", line=dict(width=0), layer="below"))

# vertical year dividers and dotted April/October lines
for d in ["2011-10-01", "2012-04-01", "2013-04-01", "2014-04-01"]:
    shapes.append(dict(type="line", xref="x5", yref="paper", x0=d, x1=d, y0=py(1322), y1=py(72),
                       line=dict(color="#5a5aff", width=1.3, dash="dot"), layer="below"))
for d in ["2012-10-01", "2013-10-01", "2014-10-01"]:
    shapes.append(dict(type="line", xref="x5", yref="paper", x0=d, x1=d, y0=py(1322), y1=py(72),
                       line=dict(color="black", width=3), layer="above"))

# legend (drawn by hand)
for k, (nm, col) in enumerate(zip(names, colors)):
    yy = [1218, 1261, 1304][k]
    shapes.append(dict(type="line", xref="paper", yref="paper", x0=px(304), x1=px(374), y0=py(yy), y1=py(yy),
                       line=dict(color=col, width=6)))
    annotations.append(dict(text=nm, xref="paper", yref="paper", x=px(389), y=py(yy - 1), xanchor="left",
                            yanchor="middle", showarrow=False, font=dict(size=35, family=FONT)))

# site labels
for nm, yy in zip(site_names, [96, 346, 609, 872, 1134]):
    annotations.append(dict(text=nm, xref="paper", yref="paper", x=px(387), y=py(yy), xanchor="center",
                            yanchor="middle", showarrow=False, font=dict(size=46, family=FONT)))
for txt, xx, yy in crop_labels:
    annotations.append(dict(text=txt, xref="paper", yref="paper", x=px(xx), y=py(yy), xanchor="center",
                            yanchor="middle", showarrow=False, font=dict(size=37, family=FONT)))

annotations.append(dict(text="Daily Carbon Fluxes (g C m <sup>-2</sup> d <sup>-1</sup> )", textangle=-90,
                        xref="paper", yref="paper", x=px(86), y=py(735), xanchor="center", yanchor="middle",
                        showarrow=False, font=dict(size=33, family=FONT)))
annotations.append(dict(text="Date", xref="paper", yref="paper", x=px(848), y=py(1418), xanchor="center",
                        yanchor="top", showarrow=False, font=dict(size=36, family=FONT, weight="bold")))

layout["shapes"] = shapes
layout["annotations"] = annotations
fig.update_layout(**layout)

fig.write_html("out.html", config={"displayModeBar": False},
               post_script="document.body.style.margin='0';")
